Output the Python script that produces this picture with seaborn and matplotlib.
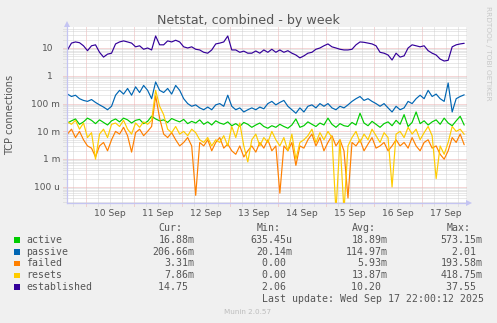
import numpy as np
import pandas as pd
import matplotlib
matplotlib.use("Agg")
import matplotlib.pyplot as plt
import matplotlib.dates as mdates
import matplotlib.transforms as mtransforms
from matplotlib.patches import Rectangle, Polygon
import seaborn as sns

# ---------------- data: 2-hourly samples, Sep 9 15:00 .. Sep 17 21:00 ----------------
series_names = ["active", "passive", "failed", "resets", "established"]
series_colors = ["#00CC00", "#0066B3", "#FF8000", "#FFCC00", "#330099"]

# connections per second, in milli-units
active_m = [
    20, 24, 28, 18, 22, 30, 25, 19, 26, 21,
    17, 24, 28, 22, 30, 26, 20, 25, 27, 19,
    23, 35, 28, 24, 26, 21, 29, 25, 22, 27,
    19, 23, 20, 26, 18, 22, 17, 24, 20, 18,
    22, 16, 19, 15, 21, 18, 14, 17, 20, 15,
    13, 16, 14, 18, 15, 13, 17, 28, 14, 16,
    22, 18, 15, 20, 17, 30, 18, 14, 19, 16,
    15, 21, 17, 45, 20, 16, 23, 18, 14, 19,
    22, 16, 25, 18, 40, 15, 21, 50, 19, 24,
    17, 22, 26, 18, 30, 20, 16, 24, 35, 16.88,
]
passive = [
    .22, .18, .20, .15, .13, .12, .14, .11, .09, .075,
    .06, .08, .20, .30, .22, .35, .20, .40, .25, .45,
    .30, .15, .60, .30, .25, .35, .22, .45, .30, .15,
    .10, .08, .09, .07, .06, .075, .06, .09, .10, .08,
    .20, .08, .06, .07, .05, .06, .07, .06, .075, .065,
    .10, .12, .09, .11, .13, .08, .06, .045, .07, .05,
    .08, .09, .07, .10, .08, .10, .07, .06, .08, .07,
    .09, .12, .15, .18, .13, .15, .12, .10, .08, .10,
    .07, .05, .08, .06, .07, .12, .10, .15, .20, .15,
    .30, .18, .22, .15, .12, .55, .05, .15, .18, .2066,
]
failed_m = [
    8, 12, 6, 10, 5, 3, 2.5, 1.2, 3, 4,
    2, 5, 10, 8, 14, 7, 1.8, 9, 12, 7,
    10, 15, 190, 30, 8, 6, 9, 5, 3, 4,
    6, 3, 0.05, 4, 3, 5, 2, 4, 6, 2.5,
    3.5, 2, 1.5, 3, 1.2, 2, 3, 1.8, 4, 2.5,
    5, 2, 3, 0.06, 3, 2, 4, 0.6, 3, 2.5,
    5, 8, 3, 6, 2, 4, 7, 3, 5, 2,
    0.04, 4, 3, 5, 2, 3.5, 6, 2.5, 3, 4,
    2, 3, 5, 3, 4, 2.5, 6, 3, 2, 4,
    5, 2.5, 3, 1.5, 1, 2, 6, 4, 8, 3.31,
]
resets_m = [
    22, 18, 25, 12, 20, 6, 9, 1, 8, 12,
    6, 18, 20, 15, 25, 12, 8, 20, 14, 22,
    18, 25, 300, 80, 40, 12, 9, 15, 8, 10,
    7, 12, 9, 5, 4, 6, 3, 5, 4, 7,
    3, 15, 6, 20, 3, 0.8, 5, 8, 3, 6,
    4, 10, 5, 3, 6, 2, 8, 1, 4, 5,
    7, 12, 4, 9, 5, 10, 6, 0, 5, 0,
    3, 6, 10, 4, 8, 5, 12, 7, 4, 9,
    6, 0.1, 8, 10, 6, 14, 8, 12, 5, 9,
    15, 7, 0.2, 3, 1.5, 4, 15, 10, 12, 7.86,
]
established = [
    8.5, 15, 16.5, 15.5, 12, 8, 12, 13, 7, 4.7,
    6, 6.5, 14, 16.5, 18, 16.5, 15, 11, 12, 9,
    10, 8.5, 27, 13, 13, 18, 16.5, 19, 16.5, 11,
    10, 11, 9, 8.5, 7, 6.5, 8.5, 14, 15, 16.5,
    27, 8.5, 8.5, 7, 7.7, 6.5, 6.5, 7.8, 6.5, 8.5,
    7, 9, 7, 8.5, 7, 8, 6.5, 5.6, 4.4, 5.2,
    6.5, 7, 9, 10, 12, 14, 11, 10, 9, 8.5,
    8.5, 9, 13, 16.5, 16, 15, 14, 12, 7, 6.5,
    5.6, 3.7, 6.5, 4.7, 5.2, 10, 13, 12, 11, 12,
    8, 6.5, 5.6, 4, 3.4, 3.6, 11, 13, 14, 14.75,
]
sample_times = pd.date_range("2025-09-09 15:00", periods=100, freq="2h")

# summary table
cur_vals = [16.88e-3, 206.66e-3, 3.31e-3, 7.86e-3, 14.75]
min_vals = [635.45e-6, 20.14e-3, 0.0, 0.0, 2.06]
avg_vals = [18.89e-3, 114.97e-3, 5.93e-3, 13.87e-3, 10.20]
max_vals = [573.15e-3, 2.01, 193.58e-3, 418.75e-3, 37.55]

day_labels = ["10 Sep", "11 Sep", "12 Sep", "13 Sep", "14 Sep", "15 Sep", "16 Sep", "17 Sep"]
day_noons = pd.date_range("2025-09-10 12:00", periods=len(day_labels), freq="D")
ytick_vals = [1e-4, 1e-3, 1e-2, 1e-1, 1, 10]
ytick_text = ["100 u", "1 m", "10 m", "100 m", "1", "10"]

title = "Netstat, combined - by week"
ylabel = "TCP connections"
last_update = "Last update: Wed Sep 17 22:00:12 2025"

# ---------------- figure ----------------
sns.set_theme(style="white")
plt.rcParams["font.family"] = ["DejaVu Sans"]

W, H, DPI = 497, 323, 100
BG = "#F0F0F0"
TXT = "#555555"
AXIS = "#C4C4F2"
fig = plt.figure(figsize=(W / DPI, H / DPI), dpi=DPI, facecolor=BG)


def fx(px):
    return px / W


def fy(py):
    return 1 - py / H


L, R, T, B = 67, 466, 27, 203
ax = fig.add_axes([fx(L), fy(B), (R - L) / W, (B - T) / H])
ax.set_facecolor("white")

ylo, yhi = 10 ** -4.576, 10 ** 1.755
ax.set_yscale("log")

values = [np.array(active_m) * 1e-3, np.array(passive), np.array(failed_m) * 1e-3,
          np.array(resets_m) * 1e-3, np.array(established)]
frames = [pd.DataFrame({"time": sample_times, "value": v, "series": n})
          for n, v in zip(series_names, values)]
df = pd.concat(frames, ignore_index=True)
# zero readings drop to the floor of the log axis
df["plotted"] = df["value"].clip(lower=ylo * 0.5)

sns.lineplot(data=df, x="time", y="plotted", hue="series", hue_order=series_names,
             palette=series_colors, linewidth=0.85, legend=False, estimator=None,
             ax=ax, zorder=3)

x0 = pd.Timestamp("2025-09-09 14:46")
x1 = pd.Timestamp("2025-09-17 21:54")
ax.set_xlim(x0, x1)
ax.set_ylim(ylo, yhi)
ax.set_xlabel("")
ax.set_ylabel("")
ax.set_xticks([])
ax.set_xticks([], minor=True)
ax.set_yticks([])
ax.set_yticks([], minor=True)

for s in ["top", "right"]:
    ax.spines[s].set_visible(False)
for s in ["left", "bottom"]:
    ax.spines[s].set_color(AXIS)
    ax.spines[s].set_linewidth(0.9)
    ax.spines[s].set_zorder(4)

MINOR = "#D2D2D2"
MAJOR = "#EDB0B0"
dots = (0, (1, 1))
lw = 0.72

# vertical grid every 6 hours, red at midnight
for t in pd.date_range("2025-09-09 18:00", "2025-09-17 18:00", freq="6h"):
    major = t.hour == 0
    ax.axvline(t, ymin=-3 / (B - T), ymax=1, clip_on=False,
               color=MAJOR if major else MINOR, lw=lw, ls=dots, zorder=1)

# horizontal grid: decades in red, 2..9 in grey
for dec in range(-5, 2):
    for sub in range(1, 10):
        v = sub * 10.0 ** dec
        if ylo <= v <= yhi:
            ax.axhline(v, xmin=-4 / (R - L), xmax=1, clip_on=False,
                       color=MAJOR if sub == 1 else MINOR, lw=lw, ls=dots, zorder=1)

# y tick labels
ytrans = mtransforms.blended_transform_factory(fig.transFigure, ax.transData) + \
    mtransforms.ScaledTranslation(0, -3.3 / DPI, fig.dpi_scale_trans)
for v, lab in zip(ytick_vals, ytick_text):
    right = 60 if " " in lab else 53
    fig.text(fx(right), v, lab, transform=ytrans, ha="right", va="baseline",
             fontsize=6.5, color=TXT)

# x tick labels at noon
xtrans = mtransforms.blended_transform_factory(ax.transData, fig.transFigure)
for t, lab in zip(day_noons, day_labels):
    fig.text(mdates.date2num(t), fy(216.5), lab, transform=xtrans, ha="center",
             va="baseline", fontsize=6.6, color=TXT)

# axis arrows
fig.patches.append(Polygon([[fx(64), fy(27)], [fx(70), fy(27)], [fx(67), fy(21)]],
                           closed=True, transform=fig.transFigure,
                           facecolor=AXIS, edgecolor="none"))
fig.patches.append(Polygon([[fx(466), fy(200)], [fx(466), fy(206)], [fx(472), fy(203)]],
                           closed=True, transform=fig.transFigure,
                           facecolor=AXIS, edgecolor="none"))

# title, axis label, side credit
fig.text(fx(248), fy(24), title, ha="center", va="baseline", fontsize=9.1, color=TXT)
fig.text(fx(10), fy(115), ylabel, ha="center", va="center", rotation=90,
         fontsize=7, color=TXT)
fig.text(fx(488), fy(53.5), "RRDTOOL / TOBI OETIKER", ha="center", va="center",
         rotation=270, fontsize=5.3, color="#C8C8C8")
fig.text(fx(248), fy(314), "Munin 2.0.57", ha="center", va="baseline",
         fontsize=5.2, color="#BDBDBD")

# ---------------- summary table ----------------
MONO = "DejaVu Sans Mono"
CW = 5.94  # monospace advance in pixels


def si(v):
    if v == 0:
        return "0.00 "
    for factor, suffix in [(1, " "), (1e-3, "m"), (1e-6, "u")]:
        if abs(v) >= factor:
            return f"{v / factor:.2f}{suffix}"
    return f"{v / 1e-9:.2f}n"


def mono(x_left, base, s):
    fig.text(fx(x_left), fy(base), s, ha="left", va="baseline", fontsize=7.1,
             family=MONO, color=TXT)


col_edges = [194, 292, 387, 482]
headers = ["Cur:", "Min:", "Avg:", "Max:"]
for edge, h in zip(col_edges, headers):
    mono(edge - CW * (len(h) + 2), 231, h)

row_base = [243, 254.7, 266.4, 278.1, 289.8]
columns = [cur_vals, min_vals, avg_vals, max_vals]
for i, (name, col) in enumerate(zip(series_names, series_colors)):
    base = row_base[i]
    fig.patches.append(Rectangle((fx(14), fy(base)), 5.6 / W, 5.6 / H,
                                 transform=fig.transFigure, facecolor=col,
                                 edgecolor="none"))
    mono(26, base, name)
    for edge, vals in zip(col_edges, columns):
        s = si(vals[i])
        mono(edge - CW * len(s), base, s)

mono(482 - CW * len(last_update), 301.5, last_update)

fig.savefig("out.png", dpi=DPI, facecolor=BG)
